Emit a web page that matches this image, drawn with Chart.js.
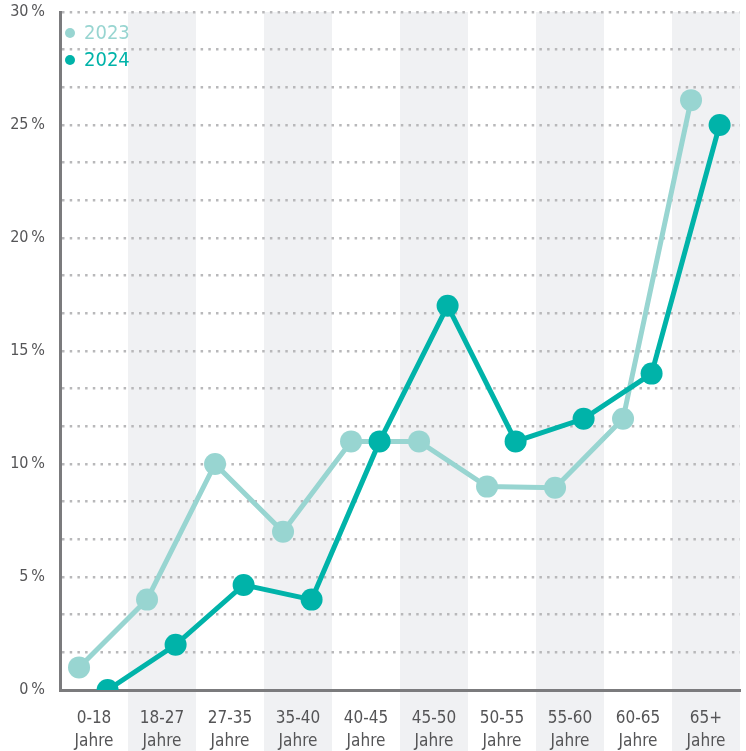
<!DOCTYPE html>
<html lang="de">
<head>
<meta charset="utf-8">
<title>Altersverteilung 2023 / 2024</title>
<script src="https://cdn.jsdelivr.net/npm/chart.js@4.4.1/dist/chart.umd.min.js"></script>
<style>
  html, body { margin: 0; padding: 0; background: #fff; overflow: hidden; }
  canvas { display: block; }
</style>
</head>
<body>
<canvas id="ageChart" width="746" height="751"></canvas>
<script>
// Chart data
const categories = ['0-18', '18-27', '27-35', '35-40', '40-45', '45-50', '50-55', '55-60', '60-65', '65+'];
const unitLine = 'Jahre';
const values2023 = [1, 4, 10, 7, 11, 11, 9, 8.95, 12, 26.1];
const values2024 = [0, 2, 4.65, 4, 11, 17, 11, 12, 14, 25];
const yTickLabels = [0, 5, 10, 15, 20, 25, 30];
const gridLinesPerStep = 3;

const COLOR_2023 = '#98d5d1';
const COLOR_2024 = '#00b3a9';
const AXIS_GREY = '#7b7b7d';
const TEXT_GREY = '#555557';
const FONT = "'Liberation Sans Narrow', 'DejaVu Sans Condensed', 'Roboto Condensed', sans-serif";

// each series sits left / right of the column centre
const OFFSET_2023 = -0.22;
const OFFSET_2024 = 0.2;

const toPoints = (values, offset) => values.map((v, i) => ({ x: i + offset, y: v }));

/**
 * Grey background columns behind every second age group
 */
const columnBands = {
    id: 'columnBands',
    beforeDraw(chart) {
        const { ctx, chartArea, scales } = chart;
        ctx.save();
        ctx.fillStyle = '#f0f1f3';
        categories.forEach((c, i) => {
            if (i % 2 === 0) return;
            const x0 = scales.x.getPixelForValue(i - 0.5);
            const x1 = scales.x.getPixelForValue(i + 0.5);
            ctx.fillRect(x0, chartArea.top, x1 - x0, chart.height - chartArea.top);
        });
        ctx.restore();
    }
};

/**
 * Small legend in the top left corner, coloured text
 */
const cornerLegend = {
    id: 'cornerLegend',
    afterDraw(chart) {
        const { ctx, chartArea } = chart;
        ctx.save();
        ctx.font = "20px " + FONT;
        ctx.textBaseline = 'middle';
        chart.data.datasets.forEach((ds, i) => {
            const y = chartArea.top + 21 + i * 27;
            ctx.fillStyle = ds.borderColor;
            ctx.beginPath();
            ctx.arc(chartArea.left + 10, y, 5, 0, Math.PI * 2);
            ctx.fill();
            ctx.fillText(ds.label, chartArea.left + 24, y + 1);
        });
        ctx.restore();
    }
};

new Chart(document.getElementById('ageChart'), {
    type: 'line',
    data: {
        datasets: [
            {
                label: '2023',
                data: toPoints(values2023, OFFSET_2023),
                borderColor: COLOR_2023,
                backgroundColor: COLOR_2023,
                borderWidth: 5,
                pointRadius: 11,
                pointHoverRadius: 11,
                pointBorderWidth: 0,
                order: 1
            },
            {
                label: '2024',
                data: toPoints(values2024, OFFSET_2024),
                borderColor: COLOR_2024,
                backgroundColor: COLOR_2024,
                borderWidth: 5,
                pointRadius: 11,
                pointHoverRadius: 11,
                pointBorderWidth: 0,
                order: 0
            }
        ]
    },
    options: {
        responsive: false,
        animation: false,
        layout: { autoPadding: false, padding: { top: 0, right: 6, left: 0, bottom: 0 } },
        plugins: {
            legend: { display: false },
            tooltip: { enabled: false }
        },
        scales: {
            x: {
                type: 'linear',
                min: -0.5,
                max: 9.5,
                afterBuildTicks: (scale) => {
                    scale.ticks = categories.map((c, i) => ({ value: i }));
                },
                afterFit: (scale) => {
                    scale.height = 61;
                    scale.paddingLeft = 0;
                    scale.paddingRight = 0;
                },
                grid: { display: false, drawTicks: false },
                border: { display: true, color: AXIS_GREY, width: 3 },
                ticks: {
                    autoSkip: false,
                    maxRotation: 0,
                    padding: 17,
                    color: TEXT_GREY,
                    font: { family: FONT, size: 17, lineHeight: 1.35 },
                    callback: (v) => [categories[Math.round(v)], unitLine]
                }
            },
            y: {
                min: 0,
                max: 30,
                afterBuildTicks: (scale) => {
                    const ticks = [];
                    for (let k = 0; k < yTickLabels.length - 1; k++) {
                        const step = (yTickLabels[k + 1] - yTickLabels[k]) / gridLinesPerStep;
                        for (let j = 0; j < gridLinesPerStep; j++) {
                            ticks.push({ value: yTickLabels[k] + j * step });
                        }
                    }
                    ticks.push({ value: yTickLabels[yTickLabels.length - 1] });
                    scale.ticks = ticks;
                },
                afterFit: (scale) => {
                    scale.width = 60;
                    scale.paddingTop = 12;
                    scale.paddingBottom = 0;
                },
                grid: {
                    color: '#b8b8ba',
                    lineWidth: 2.5,
                    drawTicks: false
                },
                border: { display: true, color: AXIS_GREY, width: 3, dash: [2.5, 5.2] },
                ticks: {
                    autoSkip: false,
                    padding: 15,
                    color: TEXT_GREY,
                    font: { family: FONT, size: 16 },
                    callback: (v) => yTickLabels.some(t => Math.abs(t - v) < 1e-6) ? Math.round(v) + '\u2009%' : ''
                }
            }
        }
    },
    plugins: [columnBands, cornerLegend]
});
</script>
</body>
</html>
